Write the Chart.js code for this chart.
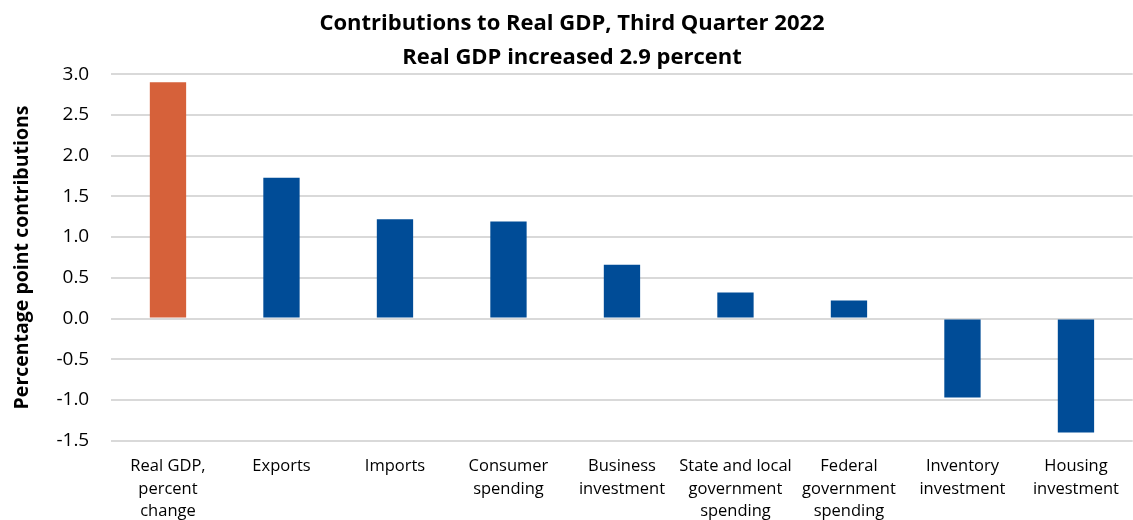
<!DOCTYPE html>
<html>
<head>
<meta charset="utf-8">
<script src="https://cdn.jsdelivr.net/npm/chart.js@4/dist/chart.umd.min.js"></script>
<style>
  html, body { margin: 0; padding: 0; background: #fff; }
  #wrap { width: 1133px; height: 520px; }
</style>
</head>
<body>
<div id="wrap"><canvas id="gdpChart"></canvas></div>
<script>
// categories (multi-line labels as arrays)
var categories = [
    ["Real GDP,", "percent", "change"],
    ["Exports"],
    ["Imports"],
    ["Consumer", "spending"],
    ["Business", "investment"],
    ["State and local", "government", "spending"],
    ["Federal", "government", "spending"],
    ["Inventory", "investment"],
    ["Housing", "investment"]
];
var contributions = [2.9, 1.73, 1.22, 1.19, 0.66, 0.32, 0.22, -0.97, -1.40];
var barColors = ["#D6613A", "#004C97", "#004C97", "#004C97", "#004C97", "#004C97", "#004C97", "#004C97", "#004C97"];
var titleLines = ["Contributions to Real GDP, Third Quarter 2022", "Real GDP increased 2.9 percent"];
var yMin = -1.5;
var yMax = 3.0;
var yStep = 0.5;

var FONT = "'Open Sans', 'Noto Sans', sans-serif";

var chartGdp = new Chart(document.getElementById("gdpChart"), {
    type: 'bar',
    data: {
        labels: categories,
        datasets: [{
            label: "Contribution",
            data: contributions,
            backgroundColor: barColors,
            borderWidth: 0,
            barPercentage: 0.32,
            categoryPercentage: 1.0
        }]
    },
    options: {
        responsive: true,
        maintainAspectRatio: false,
        animation: false,
        layout: { padding: { top: 7, right: 0, left: 11, bottom: -17 } },
        plugins: {
            legend: { display: false },
            tooltip: { enabled: false },
            title: {
                display: true,
                text: titleLines,
                color: '#000',
                font: { family: FONT, size: 22, weight: 'bold', lineHeight: 1.55 },
                padding: { top: 0, bottom: -1 }
            }
        },
        scales: {
            x: {
                grid: { display: false, drawTicks: false },
                border: { display: false },
                ticks: {
                    color: '#000',
                    font: { family: FONT, size: 16.5, lineHeight: 1.38 },
                    maxRotation: 0,
                    autoSkip: false,
                    padding: 14
                }
            },
            y: {
                min: yMin,
                max: yMax,
                grid: { color: '#D9D9D9', lineWidth: 2, drawTicks: false },
                border: { display: false },
                title: {
                    display: true,
                    text: 'Percentage point contributions',
                    color: '#000',
                    font: { family: FONT, size: 19.5, weight: 'bold' },
                    padding: { top: 0, bottom: 0 }
                },
                ticks: {
                    stepSize: yStep,
                    color: '#000',
                    font: { family: FONT, size: 19 },
                    padding: 22,
                    callback: function(v) { return v.toFixed(1); }
                }
            }
        }
    }
});
</script>
</body>
</html>
